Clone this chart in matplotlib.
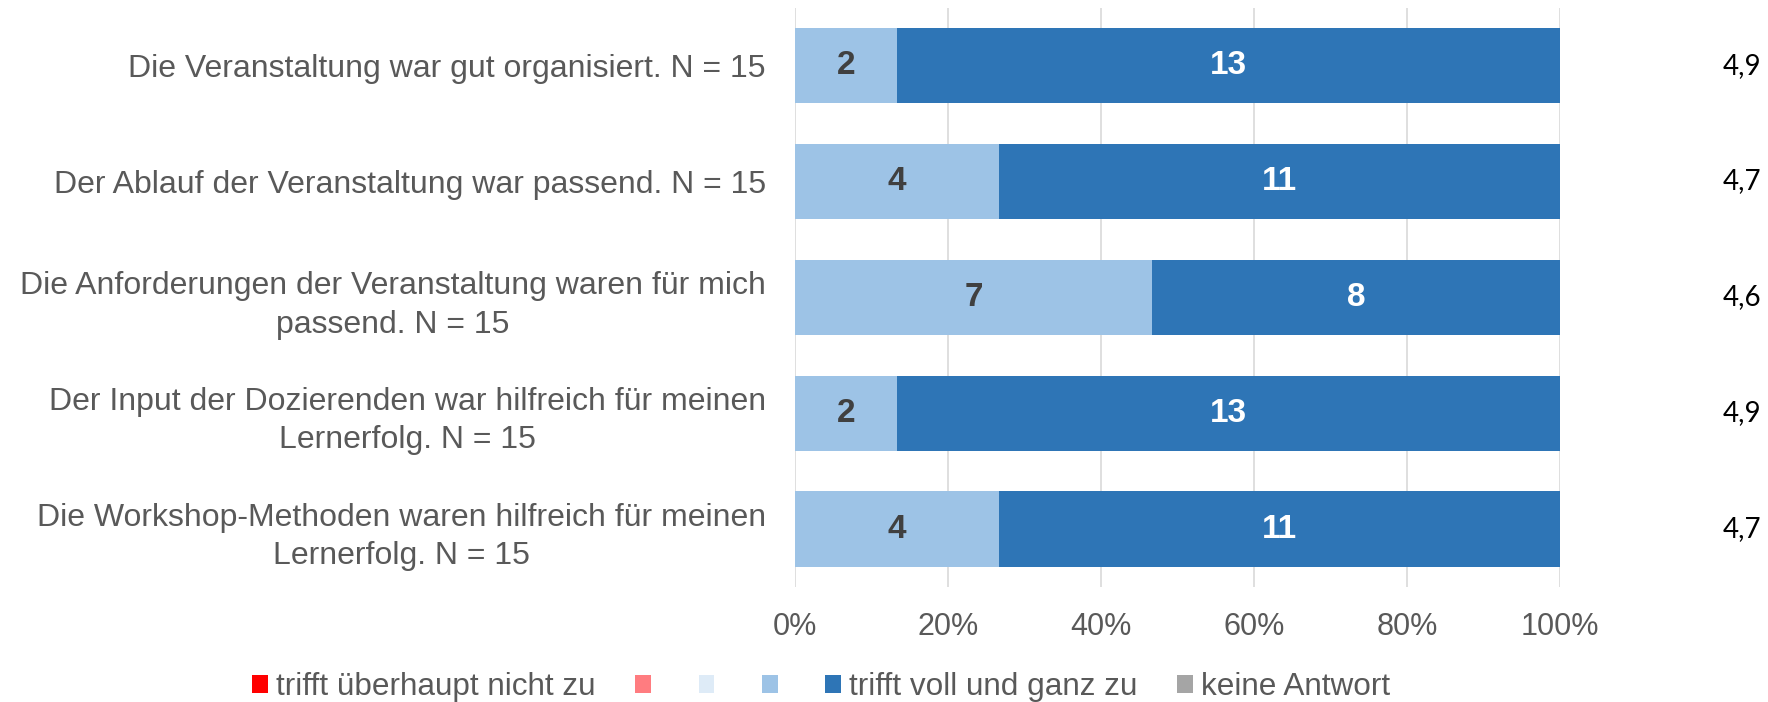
import matplotlib
matplotlib.use("Agg")
import matplotlib.pyplot as plt
import numpy as np
from matplotlib.patches import Patch

categories = [
    "Die Veranstaltung war gut organisiert. N = 15",
    "Der Ablauf der Veranstaltung war passend. N = 15",
    "Die Anforderungen der Veranstaltung waren für mich\npassend. N = 15",
    "Der Input der Dozierenden war hilfreich für meinen\nLernerfolg. N = 15",
    "Die Workshop-Methoden waren hilfreich für meinen\nLernerfolg. N = 15",
]
series_names = ["trifft überhaupt nicht zu", "", "", "", "trifft voll und ganz zu", "keine Antwort"]
series_colors = ["#FF0000", "#FF7C80", "#DEEBF7", "#9DC3E6", "#2E75B6", "#A5A5A5"]
counts = [
    [0, 0, 0, 2, 13, 0],
    [0, 0, 0, 4, 11, 0],
    [0, 0, 0, 7, 8, 0],
    [0, 0, 0, 2, 13, 0],
    [0, 0, 0, 4, 11, 0],
]
means = ["4,9", "4,7", "4,6", "4,9", "4,7"]
label_colors = ["white", "#404040", "#404040", "#404040", "white", "#404040"]

plt.rcParams['font.family'] = ['Liberation Sans', 'DejaVu Sans']

fig = plt.figure(figsize=(17.68, 7.02), dpi=100)
ax = fig.add_axes([0.4497, 0.1638, 0.8824 - 0.4497, 0.989 - 0.1638])

data = np.array(counts, dtype=float)
totals = data.sum(axis=1)
pct = data / totals[:, None]
y = np.arange(len(categories))
left = np.zeros(len(categories))
for j in range(data.shape[1]):
    ax.barh(y, pct[:, j], left=left, height=0.65, color=series_colors[j], zorder=3)
    for i in range(len(categories)):
        if data[i, j] > 0:
            ax.text(left[i] + pct[i, j] / 2, y[i], f"{int(data[i, j])}", ha='center', va='center',
                    fontsize=24, fontweight='bold', color=label_colors[j], zorder=4)
    left += pct[:, j]

ax.set_xlim(0, 1)
ax.set_ylim(len(categories) - 0.5, -0.5)
ax.set_xticks(np.linspace(0, 1, 6))
ax.set_xticklabels([f"{int(v)}%" for v in np.linspace(0, 100, 6)])
ax.set_yticks(y)
ax.set_yticklabels(categories)
for t in ax.get_yticklabels():
    t.set_multialignment('center')
    t.set_linespacing(1.38)
ax.tick_params(axis='y', length=0, pad=21, labelsize=23, labelcolor='#595959')
ax.tick_params(axis='x', length=0, pad=18, labelsize=22, labelcolor='#595959')
ax.grid(axis='x', color='#D9D9D9', linewidth=1.2, zorder=0)
for s in ax.spines.values():
    s.set_visible(False)

for i, m in enumerate(means):
    ax.text(1.0 + (1742 - 1560) / 765, y[i], m, ha='center', va='center',
            fontsize=20, color='black', family=['Lato', 'DejaVu Sans'], transform=ax.transData)

handles = [Patch(facecolor=c, edgecolor='none') for c in series_colors]
fig.legend(handles, series_names, loc='center', bbox_to_anchor=(0.4645, 0.021), ncol=6,
           frameon=False, fontsize=22.7, labelcolor='#595959', handlelength=0.5, handleheight=0.5,
           handletextpad=0.26, columnspacing=1.25)

fig.savefig("out.png", dpi=100)
